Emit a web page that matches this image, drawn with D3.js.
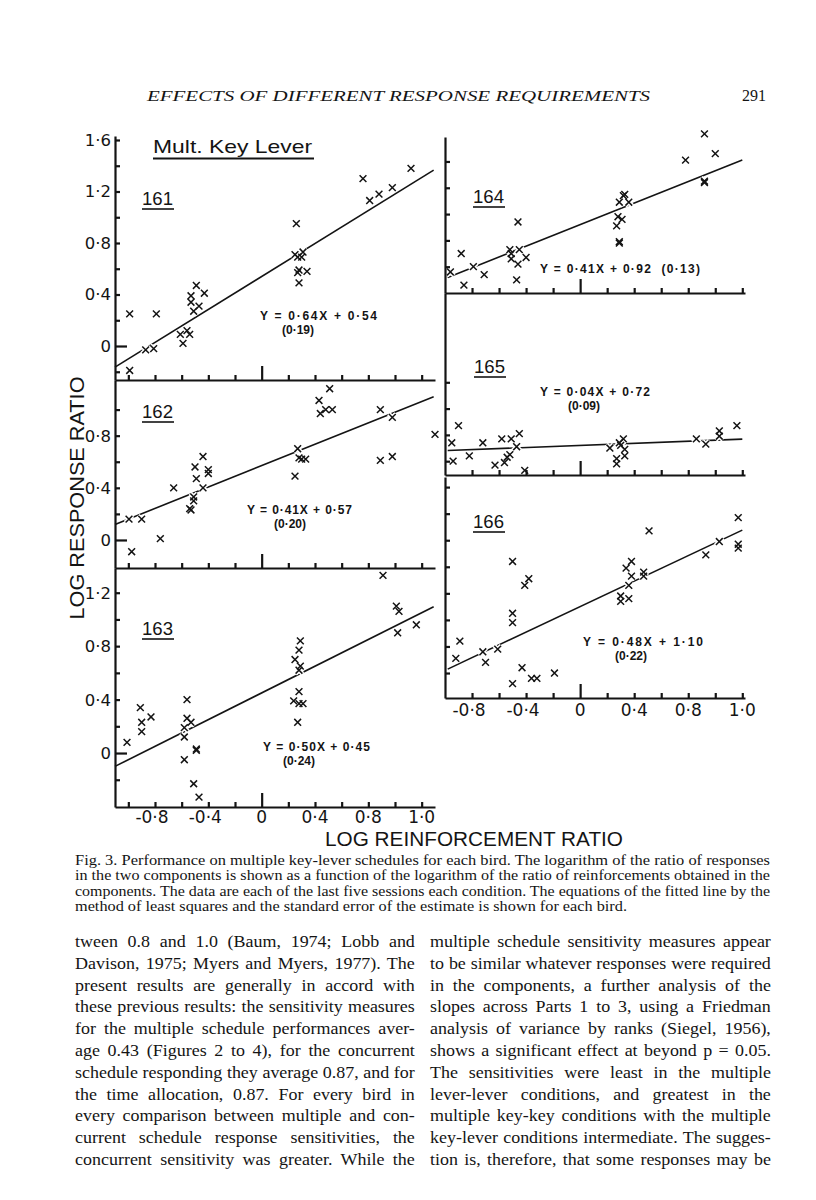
<!DOCTYPE html>
<html><head><meta charset="utf-8">
<script src="https://cdn.jsdelivr.net/npm/d3@7/dist/d3.min.js"></script>
<style>body{margin:0;background:#fff}svg{display:block}</style>
</head><body>
<svg id="c" width="816" height="1200"></svg>
<script>
// ---------------- DATA ----------------
const birds = ["161","162","163","164","165","166"];
const slopes = [0.64, 0.41, 0.50, 0.41, 0.04, 0.48];
const intercepts = [0.54, 0.57, 0.45, 0.92, 0.72, 1.10];
const equations = ["Y = 0·64X + 0·54","Y = 0·41X + 0·57","Y = 0·50X + 0·45","Y = 0·41X + 0·92  (0·13)","Y = 0·04X + 0·72","Y = 0·48X + 1·10"];
const stdErrors = ["(0·19)","(0·20)","(0·24)","","(0·09)","(0·22)"];

const xTickValues = [-1.0,-0.8,-0.6,-0.4,-0.2,0,0.2,0.4,0.6,0.8,1.0,1.2];
const xLabelValues = [-0.8,-0.4,0,0.4,0.8,1.2];
const xLabelTexts = ["-0·8","-0·4","0","0·4","0·8","1·0"];

const yTicks161 = [-0.2,0,0.2,0.4,0.6,0.8,1.0,1.2,1.4,1.6];
const yTicks162 = [0,0.2,0.4,0.6,0.8,1.0];
const yTicks163 = [-0.2,0,0.2,0.4,0.6,0.8,1.0,1.2];
const yTicks164 = [0.6,0.8,1.0,1.2,1.4];
const yTicks165 = [0.6,0.8,1.0,1.2];
const yTicks166 = [0.6,0.8,1.0,1.2,1.4,1.6,1.8,2.0];
const yLabels161 = [0,0.4,0.8,1.2,1.6];
const yLabels162 = [0,0.4,0.8];
const yLabels163 = [0,0.4,0.8,1.2];

const data161 = [[-0.99,0.25],[-0.99,-0.19],[-0.79,0.25],[-0.87,-0.03],[-0.81,-0.02],[-0.61,0.09],[-0.59,0.02],[-0.56,0.12],[-0.54,0.09],[-0.53,0.39],[-0.53,0.34],[-0.49,0.47],[-0.51,0.27],[-0.47,0.31],[-0.43,0.41],
[0.26,0.95],[0.25,0.71],[0.27,0.69],[0.30,0.69],[0.31,0.73],[0.28,0.59],[0.27,0.57],[0.34,0.58],[0.28,0.49],
[0.76,1.30],[0.81,1.13],[0.88,1.18],[0.98,1.23],[1.12,1.38]];
const data162 = [[-0.995,0.16],[-0.90,0.16],[-0.975,-0.09],[-0.76,0.01],[-0.66,0.40],[-0.54,0.24],[-0.53,0.23],[-0.51,0.30],[-0.51,0.33],[-0.50,0.56],[-0.49,0.47],[-0.44,0.64],[-0.44,0.40],[-0.40,0.54],[-0.40,0.51],
[0.25,0.49],[0.27,0.70],[0.28,0.63],[0.30,0.62],[0.33,0.62],
[0.43,1.07],[0.44,0.97],[0.48,1.00],[0.51,1.16],[0.53,1.00],
[0.89,1.00],[0.98,0.94],[0.89,0.61],[0.98,0.64],[1.30,0.81]];
const data163 = [[-1.01,0.08],[-0.91,0.34],[-0.90,0.23],[-0.90,0.16],[-0.83,0.27],
[-0.58,-0.05],[-0.58,0.19],[-0.58,0.12],[-0.56,0.40],[-0.56,0.26],[-0.53,0.23],[-0.49,0.03],[-0.49,0.02],[-0.51,-0.23],[-0.47,-0.33],
[0.25,0.70],[0.28,0.77],[0.29,0.84],[0.28,0.62],[0.29,0.65],[0.24,0.39],[0.28,0.37],[0.31,0.37],[0.28,0.46],[0.27,0.23],
[0.91,1.33],[1.01,1.10],[1.03,1.06],[1.02,0.90],[1.16,0.96]];
const data164 = [[-0.96,0.56],[-0.88,0.70],[-0.86,0.46],[-0.79,0.60],[-0.71,0.54],
[-0.52,0.73],[-0.51,0.70],[-0.51,0.66],[-0.46,0.94],[-0.45,0.73],[-0.46,0.62],[-0.47,0.50],[-0.40,0.67],
[0.27,0.91],[0.28,0.98],[0.31,0.96],[0.29,0.78],[0.29,0.79],[0.29,1.09],[0.32,1.14],[0.33,1.15],[0.36,1.09],
[0.78,1.41],[0.92,1.61],[1.00,1.46],[0.92,1.25],[0.92,1.24]];
const data165 = [[-0.95,0.74],[-0.90,0.87],[-0.94,0.60],[-0.82,0.64],[-0.72,0.74],[-0.63,0.57],[-0.58,0.77],[-0.56,0.59],[-0.54,0.63],[-0.52,0.65],[-0.51,0.77],[-0.47,0.71],[-0.45,0.81],[-0.41,0.53],
[0.22,0.70],[0.27,0.62],[0.27,0.58],[0.29,0.74],[0.30,0.72],[0.32,0.77],[0.33,0.69],[0.33,0.64],
[0.86,0.77],[0.93,0.73],[1.03,0.83],[1.03,0.79],[1.16,0.87]];
const data166 = [[-0.92,0.71],[-0.89,0.84],[-0.72,0.76],[-0.70,0.68],[-0.61,0.78],
[-0.50,1.44],[-0.50,1.05],[-0.50,0.98],[-0.50,0.52],[-0.43,0.64],[-0.41,1.26],[-0.38,1.31],[-0.36,0.56],[-0.32,0.56],[-0.19,0.60],
[0.30,1.18],[0.30,1.14],[0.34,1.39],[0.36,1.26],[0.36,1.16],[0.38,1.44],[0.38,1.33],[0.47,1.36],[0.47,1.33],[0.51,1.67],
[0.93,1.49],[1.03,1.59],[1.17,1.77],[1.17,1.57],[1.17,1.54]];

const headerText = "EFFECTS OF DIFFERENT RESPONSE REQUIREMENTS";
const pageNumber = "291";
const figTitle = "Mult. Key Lever";
const xAxisTitle = "LOG REINFORCEMENT RATIO";
const yAxisTitle = "LOG RESPONSE RATIO";
const captionLines = [
"Fig. 3. Performance on multiple key-lever schedules for each bird. The logarithm of the ratio of responses",
"in the two components is shown as a function of the logarithm of the ratio of reinforcements obtained in the",
"components. The data are each of the last five sessions each condition. The equations of the fitted line by the",
"method of least squares and the standard error of the estimate is shown for each bird."];
const bodyLeft = [
"tween 0.8 and 1.0 (Baum, 1974; Lobb and",
"Davison, 1975; Myers and Myers, 1977). The",
"present results are generally in accord with",
"these previous results: the sensitivity measures",
"for the multiple schedule performances aver-",
"age 0.43 (Figures 2 to 4), for the concurrent",
"schedule responding they average 0.87, and for",
"the time allocation, 0.87. For every bird in",
"every comparison between multiple and con-",
"current schedule response sensitivities, the",
"concurrent sensitivity was greater. While the"];
const bodyRight = [
"multiple schedule sensitivity measures appear",
"to be similar whatever responses were required",
"in the components, a further analysis of the",
"slopes across Parts 1 to 3, using a Friedman",
"analysis of variance by ranks (Siegel, 1956),",
"shows a significant effect at beyond p = 0.05.",
"The sensitivities were least in the multiple",
"lever-lever conditions, and greatest in the",
"multiple key-key conditions with the multiple",
"key-lever conditions intermediate. The sugges-",
"tion is, therefore, that some responses may be"];

// ---------------- LAYOUT ----------------
const INK = "#141414";
const SANS = "'Liberation Sans', Arial, sans-serif";
const NUMF = "'DejaVu Sans', 'Liberation Sans', sans-serif";
const SERIF = "'Liberation Serif', 'Times New Roman', serif";
const datasets = [data161,data162,data163,data164,data165,data166];
const yTickSets = [yTicks161,yTicks162,yTicks163,yTicks164,yTicks165,yTicks166];
const yLabelSets = [yLabels161,yLabels162,yLabels163,null,null,null];
const leftX = d3.scaleLinear().domain([-1.1,1.3]).range([115,435]);
const rightX = d3.scaleLinear().domain([-1.0,1.22]).range([445,745]);
const panels = [
 {x:leftX, y:d3.scaleLinear().domain([-0.264,1.631]).range([380,136]), lx:[-1.1,1.29], num:[142,205], eq:[260,320,117], se:[282,334], xt:xTickValues.filter(v=>v>=-1.0)},
 {x:leftX, y:d3.scaleLinear().domain([-0.215,1.227]).range([568,380]), lx:[-1.1,1.29], num:[142,418], eq:[247,514,105], se:[274,528], xt:xTickValues},
 {x:leftX, y:d3.scaleLinear().domain([-0.404,1.385]).range([807,568]), lx:[-1.1,1.29], num:[142,635], eq:[263,751,107], se:[283,765], xt:xTickValues},
 {x:rightX, y:d3.scaleLinear().domain([0.4,1.586]).range([293,137]), lx:[-0.98,1.2], num:[473,203], eq:[540,273,160], se:null, xt:xTickValues.filter(v=>v>-1)},
 {x:rightX, y:d3.scaleLinear().domain([0.495,1.879]).range([475,293]), lx:[-0.98,1.2], num:[474,373], eq:[540,396,110], se:[568,410], xt:xTickValues.filter(v=>v>-1)},
 {x:rightX, y:d3.scaleLinear().domain([0.412,2.076]).range([698,477]), lx:[-0.98,1.2], num:[473,528], eq:[583,646,120], se:[615,660], xt:xTickValues.filter(v=>v>-1)}
];

const svg = d3.select("#c");
svg.append("rect").attr("width",816).attr("height",1200).attr("fill","#fff");

// header
svg.append("text").attr("x",147).attr("y",101).attr("font-family",SERIF).attr("font-style","italic")
  .attr("font-size",15.5).attr("fill",INK).attr("textLength",503).attr("lengthAdjust","spacingAndGlyphs").text(headerText);
svg.append("text").attr("x",766).attr("y",101).attr("text-anchor","end").attr("font-family",SERIF)
  .attr("font-size",16).attr("fill",INK).text(pageNumber);

const xmark = (g, sx, sy, r, cls, color, w) => {
  g.selectAll("path."+cls).data(g.datum()).join("path").attr("class",cls)
   .attr("d", d => { const cx=sx(d[0]), cy=sy(d[1]);
      return `M${cx-r},${cy-r}L${cx+r},${cy+r}M${cx+r},${cy-r}L${cx-r},${cy+r}`; })
   .attr("stroke",color).attr("stroke-width",w).attr("fill","none");
};

panels.forEach((p,i) => {
  const g = svg.append("g");
  const line = d3.line().x(d=>p.x(d)).y(d=>p.y(slopes[i]*d+intercepts[i]));
  g.append("path").attr("d", line(p.lx)).attr("stroke",INK).attr("stroke-width",1.6).attr("fill","none");
  const gh = g.append("g").datum(datasets[i]);
  xmark(gh, p.x, p.y, 3.6, "halo", "#fff", 4.5);
  const x0 = p.x.range()[0], yb = p.y.range()[0];
  const ya = g.append("g").attr("transform",`translate(${x0},0)`)
    .call(d3.axisRight(p.y).tickValues(yTickSets[i]).tickSize(5).tickSizeOuter(0).tickFormat(""));
  ya.selectAll(".tick line").filter(d=>d===0).attr("x2",12);
  const xa = g.append("g").attr("transform",`translate(0,${yb})`)
    .call(d3.axisTop(p.x).tickValues(p.xt).tickSize(5).tickSizeOuter(0).tickFormat(""));
  xa.selectAll(".tick line").filter(d=>d===0).attr("y2",-14);
  [ya,xa].forEach(a => { a.selectAll("path,line").attr("stroke",INK).attr("stroke-width",2.2); });
  const gm = g.append("g").datum(datasets[i]);
  xmark(gm, p.x, p.y, 3.4, "mk", INK, 1.5);
  if (yLabelSets[i]) {
    g.selectAll("text.yl").data(yLabelSets[i]).join("text").attr("class","yl")
     .attr("x",111).attr("y",d=>p.y(d)).attr("dy","0.36em").attr("text-anchor","end")
     .attr("font-family",NUMF).attr("font-size",16.5).attr("fill",INK)
     .text(d => d===0 ? "0" : d3.format(".1f")(d).replace(".","·"));
  }
  g.append("text").attr("x",p.num[0]).attr("y",p.num[1]).attr("font-family",SANS)
    .attr("font-size",19).attr("fill",INK).attr("textLength",31).attr("lengthAdjust","spacingAndGlyphs").text(birds[i]);
  g.append("line").attr("x1",p.num[0]).attr("x2",p.num[0]+32).attr("y1",p.num[1]+4).attr("y2",p.num[1]+4)
    .attr("stroke",INK).attr("stroke-width",1.6);
  g.append("text").attr("x",p.eq[0]).attr("y",p.eq[1]).attr("font-family",SANS).attr("font-weight","bold")
    .attr("font-size",12).attr("fill",INK).attr("textLength",p.eq[2]).attr("lengthAdjust","spacing")
    .style("white-space","pre").text(equations[i]);
  if (p.se) g.append("text").attr("x",p.se[0]).attr("y",p.se[1]).attr("font-family",SANS).attr("font-weight","bold")
    .attr("font-size",12).attr("fill",INK).text(stdErrors[i]);
});

// x tick labels
[[leftX,823],[rightX,716]].forEach(([sx,yy]) => {
  svg.append("g").selectAll("text").data(xLabelValues).join("text")
   .attr("x",(d,k)=>sx(d)-(xLabelTexts[k].startsWith("-")?3:0)).attr("y",yy).attr("text-anchor","middle")
   .attr("font-family",NUMF).attr("font-size",17).attr("fill",INK)
   .text((d,k)=>xLabelTexts[k]);
});

// title
svg.append("text").attr("x",153).attr("y",153).attr("font-family",SANS).attr("font-size",19).attr("fill",INK)
  .attr("textLength",159).attr("lengthAdjust","spacingAndGlyphs").text(figTitle);
svg.append("line").attr("x1",153).attr("x2",314).attr("y1",158.5).attr("y2",158.5).attr("stroke",INK).attr("stroke-width",1.8);

// axis titles
svg.append("text").attr("x",325).attr("y",846).attr("font-family",SANS).attr("font-size",21).attr("fill",INK)
  .attr("textLength",298).attr("lengthAdjust","spacingAndGlyphs").text(xAxisTitle);
svg.append("text").attr("transform","translate(84,498) rotate(-90)").attr("text-anchor","middle")
  .attr("font-family",SANS).attr("font-size",21).attr("fill",INK)
  .attr("textLength",243).attr("lengthAdjust","spacingAndGlyphs").text(yAxisTitle);

// caption
const cap = svg.append("g").selectAll("text").data(captionLines).join("text")
  .attr("x",75).attr("y",(d,k)=>865+k*15.4).attr("font-family",SERIF).attr("font-size",14).attr("fill",INK)
  .text(d=>d);
cap.each(function(d,k){
  d3.select(this).attr("textLength", k<3 ? 695 : 552).attr("lengthAdjust","spacingAndGlyphs");
});

// body text: slight horizontal stretch of the glyphs, rest of the justification in the word spaces
[[bodyLeft,75,340],[bodyRight,430,341]].forEach(([lines,x0,w]) => {
  const s = svg.append("g").selectAll("text").data(lines).join("text")
   .attr("x",0).attr("y",0).attr("font-family",SERIF).attr("font-size",16.5).attr("fill",INK)
   .text(d=>d);
  s.each(function(d,k){
    const t = d3.select(this);
    const nat = this.getComputedTextLength();
    const st = Math.min(1.09, w/nat);
    const spaces = (d.match(/ /g)||[]).length;
    t.attr("transform",`translate(${x0},${947+k*21.8}) scale(${st.toFixed(4)},1)`);
    if (spaces>0) t.attr("word-spacing", ((w/st - nat)/spaces).toFixed(2));
  });
});
</script>
</body></html>
